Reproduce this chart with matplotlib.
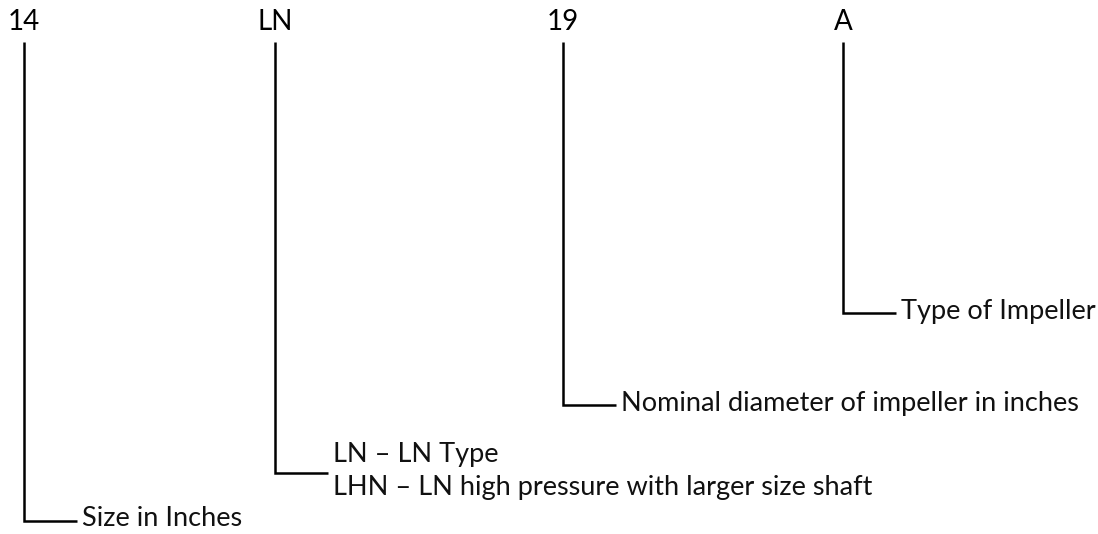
import matplotlib
matplotlib.use("Agg")
import matplotlib.pyplot as plt

# Content
codes = ["14", "LN", "19", "A"]
descriptions = [
    ["Size in Inches"],
    ["LN \u2013 LN Type", "LHN \u2013 LN high pressure with larger size shaft"],
    ["Nominal diameter of impeller in inches"],
    ["Type of Impeller"],
]

# Layout (pixel coordinates)
code_x = [24, 275, 563, 843]
bend_y = [521, 473, 405, 313]
line_top = 42
elbow_len = 53
text_gap = 5
line_spacing = 33

plt.rcParams['font.family'] = ['Lato', 'DejaVu Sans']

fig = plt.figure(figsize=(10.98, 5.34), dpi=100)
ax = fig.add_axes([0, 0, 1, 1])
ax.set_xlim(0, 1098)
ax.set_ylim(534, 0)
ax.axis('off')

for code, descs, x, y in zip(codes, descriptions, code_x, bend_y):
    ax.text(x, 22, code, ha='center', va='center', fontsize=20, color='black')
    ax.plot([x, x, x + elbow_len], [line_top, y, y], color='black', lw=1.8,
            solid_joinstyle='miter', solid_capstyle='butt')
    n = len(descs)
    for i, d in enumerate(descs):
        yy = y - 2 + (i - (n - 1) / 2) * line_spacing
        ax.text(x + elbow_len + text_gap, yy, d,
                ha='left', va='center', fontsize=19.5, color='#111111')

fig.savefig('out.png', dpi=100)
